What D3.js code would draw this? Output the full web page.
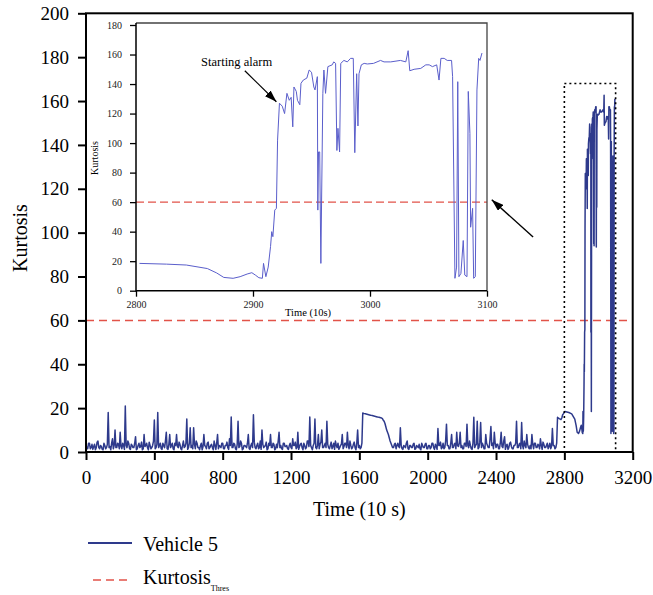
<!DOCTYPE html>
<html>
<head>
<meta charset="utf-8">
<script src="https://cdn.jsdelivr.net/npm/d3@7"></script>
<style>
    body { margin: 0; background: #fff; }
    svg { display: block; font-family: "Liberation Serif", "DejaVu Serif", serif; }
</style>
</head>
<body>
<script>
// kurtosis of vehicle 5, one value every 10 (x 10 s) from 0 to 2790
const LOW_STEP = 10;
const lowKurtosis = [
    3, 1.5, 4, 2, 1.2, 3.5, 2, 5, 1.5, 2.5, 1, 3, 2, 18, 2.5, 4, 1.5, 10, 2, 3.5,
    9, 1.5, 3, 21, 2, 4, 1.2, 3, 2, 7, 1.5, 4, 2.5, 1, 8, 3, 2, 4.5, 1.5, 3,
    14.6, 2, 18, 3, 1.5, 4, 2, 9, 1.2, 8, 3, 1.5, 4, 8, 2, 3.5, 1, 5, 2.5, 15,
    2, 11, 3, 11, 1.5, 4, 2, 3, 1, 8, 2.5, 4, 1.5, 3, 2, 5, 1.2, 8, 3, 2,
    4, 1.5, 3, 2, 6, 16, 2, 3.5, 1, 14, 2.5, 4, 1.5, 3, 2, 8, 1.2, 4, 17, 2,
    3, 1.5, 5, 10, 2, 3, 1, 4, 8, 2, 3.5, 1.5, 2, 9, 3, 1.2, 4, 2.5, 1.5, 3,
    2, 6, 3, 1.5, 9, 2.5, 4, 1, 3, 2, 5, 16, 2, 3, 15, 1.5, 8, 3.5, 10, 2,
    4, 14, 2, 3, 1.5, 4, 5, 2, 1.2, 3, 8, 2.5, 4, 9, 1.5, 3, 2, 4.5, 1, 10,
    3, 2, 17.8, 17.5, 17.3, 17.1, 16.9, 16.7, 16.5, 16.3, 16.1, 15.9, 15.7, 15.5, 14.5, 13, 10, 8, 5, 3,
    2, 4, 3, 2.5, 11, 1.5, 3, 2, 5, 1.2, 3, 2, 4, 1.5, 2.5, 3.5, 1, 3, 2, 4,
    1.5, 3, 2, 4, 1.2, 2.5, 10.7, 3, 1.5, 4, 2, 12.7, 3, 1.5, 8, 2, 4, 9, 2.5, 9,
    3, 1.5, 4, 12.7, 2, 3, 1.2, 15.8, 3, 14, 2, 13.4, 4, 1.5, 8, 3, 2, 11.6, 4, 9,
    2, 3.5, 1.5, 9, 2, 7, 3, 1.2, 4, 2.5, 1.5, 3, 14, 2, 4, 13.4, 1.5, 3, 8, 2,
    3, 8, 1.5, 4, 2, 3, 6, 1.2, 3.5, 2, 4, 2.5, 1.5, 10.7, 3, 2, 15.8, 15.2, 14.8, 17
];
// the values in between, at 5, 15, 25 ... 2795
const lowKurtosisMid = [
    2, 4, 1.5, 3.5, 2.5, 1, 4.5, 2, 3, 1.2, 4, 1.5, 3.5, 2, 1, 6, 3, 2, 4, 1.5,
    2.5, 4, 1.2, 3, 5, 1.5, 3.5, 2, 4, 1, 3, 2, 4.5, 1.5, 2.5, 4, 1, 3, 2, 5,
    1.5, 3.5, 2, 4, 1.2, 3, 5, 1.5, 3.5, 2, 4, 1, 3, 2.5, 4.5, 1.5, 3, 2, 4, 1.2,
    4, 2, 1.5, 3.5, 5, 2, 1, 4, 2.5, 3, 1.5, 4.5, 2, 3.5, 1, 3, 4, 1.5, 2.5, 4,
    1.5, 3, 4.5, 1.2, 3, 2, 4, 1.5, 3.5, 2, 5, 1, 3, 2.5, 4, 1.5, 3, 2, 4.5, 1.5,
    4, 2, 1.2, 3.5, 2.5, 4.5, 1.5, 3, 2, 4, 1, 3.5, 5, 2, 1.5, 4, 2.5, 3, 1.2, 4,
    1.5, 3, 4.5, 2, 1.2, 3.5, 2, 4, 1.5, 5, 2.5, 3, 1, 4, 2, 3, 1.5, 4.5, 2, 3,
    2, 3.5, 1.5, 4.5, 2.5, 1.2, 3, 4, 2, 3.5, 1.5, 4, 2, 3, 5, 1.5, 3.5, 2, 4, 2,
    1.5, 4, 17.6, 17.4, 17.2, 17, 16.8, 16.6, 16.4, 16.2, 16, 15.8, 15.6, 15.2, 14, 11.5, 9, 6.5, 4, 2,
    3.5, 1.5, 4, 2, 3, 1.2, 2.5, 4, 1.5, 3, 2, 3.5, 1.2, 3, 2, 1.5, 4, 2, 3.5, 1.5,
    3, 1.5, 4, 2, 3.5, 1.2, 3, 4.5, 2, 1.5, 5, 3, 1.5, 4, 2, 3.5, 1.5, 3, 4, 2,
    1.5, 4, 2.5, 3, 5, 1.5, 4, 2, 3.5, 1.5, 4.5, 2, 3, 1.5, 4, 2, 6, 3, 1.5, 4,
    3.5, 1.5, 4, 2.5, 5, 1.2, 3.5, 2, 4.5, 1.5, 3, 4, 2, 3.5, 1.5, 3, 5, 2, 3.5, 1.5,
    1.5, 3.5, 4, 2, 3.5, 1.5, 3, 4.5, 2, 3, 1.5, 4, 2.5, 3, 1.5, 4, 15.5, 15, 15.5, 17.5
];

// alarm segment [time, kurtosis]
const alarmSegment = [
    [2803, 18.5], [2826, 18], [2843, 17.4], [2861, 15], [2869, 12], [2875, 9], [2883, 8.4],
    [2889, 9.5], [2895, 11.3], [2899, 12.2], [2902, 10.6], [2905, 8.8], [2908, 8.4], [2909, 18.5],
    [2911, 9.5], [2913, 16], [2915, 30], [2916, 40], [2917, 36.6], [2918.6, 54.6], [2920, 55.8],
    [2921, 102], [2922.6, 127], [2925, 125], [2927, 120], [2929, 133.7], [2931, 129], [2932.6, 131],
    [2934, 111], [2935, 138], [2937, 135], [2938, 129], [2940, 126], [2941, 140.5], [2943, 142.7],
    [2946, 144], [2948, 149.5], [2950, 148], [2952, 138], [2953, 136], [2955, 145], [2955.4, 54.6],
    [2956, 94], [2957, 94], [2958, 18.5], [2959.7, 133.7], [2960.6, 149.5], [2962, 133.7],
    [2964, 151.8], [2967.7, 153], [2969, 155], [2970.6, 154], [2971.7, 95], [2972.6, 110],
    [2974, 94], [2975, 154], [2977.7, 156], [2980.6, 155], [2983.4, 157.4], [2985.7, 157.4],
    [2987, 93.5], [2988.6, 147], [2989.7, 111.6], [2990.6, 147], [2992.6, 153], [2995, 154],
    [2997.7, 153.6], [3003, 154], [3009, 156], [3012, 155], [3017.7, 155], [3026, 156],
    [3030.6, 155], [3032.6, 162.6], [3034, 149], [3037.7, 150], [3043.4, 150.6], [3047.7, 153],
    [3050.6, 153], [3053.4, 151.8], [3057, 153], [3059, 142.7], [3060.6, 157.4], [3063.4, 157.4],
    [3066, 156], [3069.7, 156], [3070.6, 145], [3072.6, 8.4], [3074, 16], [3075, 141.6],
    [3076, 9.5], [3077.7, 11.7], [3079.7, 34], [3081, 10.6], [3082.9, 9.5], [3084, 135],
    [3085.4, 106.6], [3086, 43], [3087.7, 55.8], [3088.6, 8.4], [3090, 9.5], [3091.4, 136],
    [3092.9, 157.4], [3094, 156], [3095.7, 161]
];

const KURTOSIS_THRES = 60;
const xTicks = [0, 400, 800, 1200, 1600, 2000, 2400, 2800, 3200];
const yTicks = [0, 20, 40, 60, 80, 100, 120, 140, 160, 180, 200];
const insetXTicks = [2800, 2900, 3000, 3100];
const insetYTicks = [0, 20, 40, 60, 80, 100, 120, 140, 160, 180];
const zoomBox = {t0: 2800, t1: 3100, top: 168};

const NAVY = "#2e3a8c";
const INSET_BLUE = "#5a5ecb";
const RED = "#e25349";

let series = [];
lowKurtosis.forEach((v, i) => {
    series.push({t: i * LOW_STEP, v: v});
    series.push({t: i * LOW_STEP + LOW_STEP / 2, v: lowKurtosisMid[i]});
});
const alarm = alarmSegment.map((d) => ({t: d[0], v: d[1]}));
series = series.concat(alarm);

const svg = d3.select("body").append("svg").attr("width", 653).attr("height", 595);

const defs = svg.append("defs");
defs.append("marker")
    .attr("id", "head")
    .attr("markerUnits", "userSpaceOnUse")
    .attr("markerWidth", 12).attr("markerHeight", 8)
    .attr("refX", 12).attr("refY", 4)
    .attr("orient", "auto")
    .append("path").attr("d", "M0,0 L12,4 L0,8 Z").attr("fill", "#000");

const fmt = d3.format("d");

// ---- main chart ----
const x = d3.scaleLinear().domain([0, 3200]).range([86, 632.7]);
const y = d3.scaleLinear().domain([0, 200]).range([452, 13.3]);

const xAxis = svg.append("g")
    .attr("transform", "translate(0," + y(0) + ")")
    .call(d3.axisBottom(x).tickValues(xTicks).tickFormat(fmt).tickSize(8).tickSizeOuter(0).tickPadding(11));
const yAxis = svg.append("g")
    .attr("transform", "translate(" + x(0) + ",0)")
    .call(d3.axisLeft(y).tickValues(yTicks).tickFormat(fmt).tickSize(8).tickSizeOuter(0).tickPadding(9));
[xAxis, yAxis].forEach((g) => {
    g.select(".domain").remove();
    g.selectAll(".tick line").attr("stroke", "#000").attr("stroke-width", 2);
    g.selectAll(".tick text").attr("fill", "#000").style("font-size", "19px")
        .style("font-family", "Liberation Serif");
});

svg.append("text")
    .attr("x", (x(0) + x(3200)) / 2).attr("y", 516)
    .attr("text-anchor", "middle").style("font-size", "20px")
    .text("Time (10 s)");
svg.append("text")
    .attr("transform", "translate(27," + 238 + ") rotate(-90)")
    .attr("text-anchor", "middle").style("font-size", "20px")
    .text("Kurtosis");

svg.append("line")
    .attr("x1", x(0)).attr("x2", x(3200))
    .attr("y1", y(KURTOSIS_THRES)).attr("y2", y(KURTOSIS_THRES))
    .attr("stroke", RED).attr("stroke-width", 1.5).attr("stroke-dasharray", "8,5");

const line = d3.line().x((d) => x(d.t)).y((d) => y(d.v));
svg.append("path")
    .datum(series)
    .attr("d", line)
    .attr("fill", "none")
    .attr("stroke", NAVY)
    .attr("stroke-width", 1.5)
    .attr("stroke-linejoin", "round");

svg.append("rect")
    .attr("x", x(zoomBox.t0)).attr("y", y(zoomBox.top))
    .attr("width", x(zoomBox.t1) - x(zoomBox.t0))
    .attr("height", y(0) - y(zoomBox.top))
    .attr("fill", "none").attr("stroke", "#000")
    .attr("stroke-width", 1.6).attr("stroke-dasharray", "2,3");

svg.append("rect")
    .attr("x", x(0)).attr("y", y(200))
    .attr("width", x(3200) - x(0)).attr("height", y(0) - y(200))
    .attr("fill", "none").attr("stroke", "#000").attr("stroke-width", 2);

// pointer from zoom box to inset
svg.append("line")
    .attr("x1", x(2617)).attr("y1", y(98))
    .attr("x2", x(2375)).attr("y2", y(115))
    .attr("stroke", "#000").attr("stroke-width", 1.4)
    .attr("marker-end", "url(#head)");

// ---- inset ----
const ix = d3.scaleLinear().domain([2800, 3100]).range([136, 487]);
const iy = d3.scaleLinear().domain([0, 180]).range([290.7, 25]);

const inset = svg.append("g");
const ixAxis = inset.append("g")
    .attr("transform", "translate(0," + iy(0) + ")")
    .call(d3.axisBottom(ix).tickValues(insetXTicks).tickFormat(fmt).tickSize(6).tickSizeOuter(0).tickPadding(4));
const iyAxis = inset.append("g")
    .attr("transform", "translate(" + ix(2800) + ",0)")
    .call(d3.axisLeft(iy).tickValues(insetYTicks).tickFormat(fmt).tickSize(6).tickSizeOuter(0).tickPadding(8));
[ixAxis, iyAxis].forEach((g) => {
    g.select(".domain").remove();
    g.selectAll(".tick line").attr("stroke", "#000").attr("stroke-width", 1.3);
    g.selectAll(".tick text").attr("fill", "#222").style("font-size", "10px")
        .style("font-family", "Liberation Serif");
});

inset.append("text")
    .attr("x", 308).attr("y", 316)
    .attr("text-anchor", "middle").style("font-size", "10.5px")
    .text("Time (10s)");
inset.append("text")
    .attr("transform", "translate(98,158) rotate(-90)")
    .attr("text-anchor", "middle").style("font-size", "10px")
    .text("Kurtosis");

inset.append("line")
    .attr("x1", ix(2800)).attr("x2", ix(3100))
    .attr("y1", iy(KURTOSIS_THRES)).attr("y2", iy(KURTOSIS_THRES))
    .attr("stroke", RED).attr("stroke-width", 1.4).attr("stroke-dasharray", "8,4");

const insetLine = d3.line().x((d) => ix(d.t)).y((d) => iy(d.v));
inset.append("path")
    .datum(alarm)
    .attr("d", insetLine)
    .attr("fill", "none")
    .attr("stroke", INSET_BLUE)
    .attr("stroke-width", 1)
    .attr("stroke-linejoin", "round");

// frame: top/right gray, left/bottom black
inset.append("path")
    .attr("d", "M" + ix(2800) + "," + (iy(180) - 2) + "H" + ix(3100) + "V" + iy(0))
    .attr("fill", "none").attr("stroke", "#444").attr("stroke-width", 1.3);
inset.append("path")
    .attr("d", "M" + ix(2800) + "," + (iy(180) - 2) + "V" + iy(0) + "H" + ix(3100))
    .attr("fill", "none").attr("stroke", "#000").attr("stroke-width", 1.5);

inset.append("text")
    .attr("x", ix(2886)).attr("y", iy(152))
    .attr("text-anchor", "middle").style("font-size", "12.5px")
    .text("Starting alarm");
inset.append("line")
    .attr("x1", ix(2893)).attr("y1", iy(149))
    .attr("x2", ix(2920)).attr("y2", iy(128))
    .attr("stroke", "#000").attr("stroke-width", 1.2)
    .attr("marker-end", "url(#head)");

// ---- legend ----
const legend = svg.append("g");
legend.append("line")
    .attr("x1", 88).attr("x2", 132).attr("y1", 543).attr("y2", 543)
    .attr("stroke", NAVY).attr("stroke-width", 2);
legend.append("text").attr("x", 143).attr("y", 551).style("font-size", "20px").text("Vehicle 5");
legend.append("line")
    .attr("x1", 93).attr("x2", 128).attr("y1", 580).attr("y2", 580)
    .attr("stroke", RED).attr("stroke-width", 1.5).attr("stroke-dasharray", "8,5");
const thresText = legend.append("text").attr("x", 143).attr("y", 584).style("font-size", "20px");
thresText.append("tspan").text("Kurtosis");
thresText.append("tspan").attr("dy", 7).style("font-size", "8px").text("Thres");
</script>
</body>
</html>
